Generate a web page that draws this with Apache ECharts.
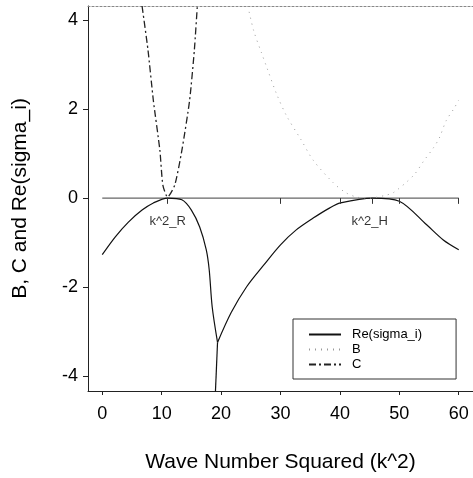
<!DOCTYPE html>
<html>
<head>
<meta charset="utf-8">
<script src="https://cdn.jsdelivr.net/npm/echarts@6/dist/echarts.min.js"></script>
<style>
  html, body { margin: 0; padding: 0; background: #fff; }
  #chart { width: 473px; height: 478px; }
</style>
</head>
<body>
<div id="chart"></div>
<script>
// Growth rate Re(sigma_i) and the two criteria B, C against k^2
const xTicks = [0, 10, 20, 30, 40, 50, 60];
const yTicks = [-4, -2, 0, 2, 4];

// Re(sigma_i): left branch up to the kink near k^2 = 19.4,
// the singular drop below it, and the right branch peaking at k^2_H
const reLeft = [
  [0, -1.27], [2.2, -0.87], [4.4, -0.54], [6.7, -0.27], [8.6, -0.11],
  [11.0, 0.0], [13.4, -0.04], [15.0, -0.27], [16.4, -0.65], [17.5, -1.16],
  [18.0, -1.61], [18.5, -2.44], [19.4, -3.24]
];
const reDrop = [[19.4, -3.24], [19.0, -4.5]];
const reRight = [
  [19.4, -3.24], [21.7, -2.57], [24.3, -1.99], [27.2, -1.50], [30.0, -1.05],
  [32.6, -0.72], [35.5, -0.45], [38.3, -0.22], [40.1, -0.11], [45.5, 0.0],
  [50.0, -0.07], [54.6, -0.60], [57.4, -0.94], [60.0, -1.16]
];
const bValues = [
  [24.5, 4.31], [25.5, 3.75], [26.8, 3.26], [27.7, 2.93], [29.3, 2.35],
  [31.0, 1.85], [33.5, 1.30], [35.5, 0.85], [38.9, 0.34], [41.0, 0.12],
  [42.9, 0.02], [45.0, 0.0], [47.9, 0.07], [49.1, 0.13], [52.4, 0.51],
  [54.2, 0.85], [55.7, 1.12], [56.7, 1.34], [57.9, 1.74], [59.2, 2.01],
  [60.0, 2.2]
];
const cValues = [
  [6.7, 4.31], [7.7, 3.32], [8.6, 2.19], [9.7, 1.07], [10.2, 0.29],
  [11.0, 0.02], [12.2, 0.29], [13.4, 1.07], [14.7, 2.19], [15.5, 3.32],
  [16.0, 4.31]
];
const zeroLine = [[0, 0], [60, 0]];
const zeroTicks = [11, 30, 40, 45.5, 50, 60];
const notes = [[11, -0.53, 'k^2_R'], [45, -0.53, 'k^2_H']];

const font = 'Liberation Sans, Arial, Helvetica, sans-serif';
const chart = echarts.init(document.getElementById('chart'), null, { renderer: 'canvas' });

const reStyle = {
  name: 'Re(sigma_i)', type: 'line', symbol: 'none',
  itemStyle: { color: '#111' },
  lineStyle: { color: '#111', width: 1.2 }
};

chart.setOption({
  backgroundColor: '#ffffff',
  animation: false,
  textStyle: { fontFamily: font, color: '#000' },
  grid: { left: 88, top: 6, width: 389, height: 386, containLabel: false },
  xAxis: [{
    type: 'value', min: -2.4, max: 62.4, position: 'bottom',
    name: 'Wave Number Squared (k^2)', nameLocation: 'middle', nameGap: 61,
    nameTextStyle: { fontSize: 21, color: '#000', fontFamily: font },
    axisLine: { show: true, onZero: false, lineStyle: { color: '#222', width: 1 } },
    axisTick: { show: true, length: 4, customValues: xTicks, lineStyle: { color: '#222' } },
    axisLabel: { customValues: xTicks, fontSize: 18, color: '#000', margin: 14, fontFamily: font },
    splitLine: { show: false }
  }, {
    type: 'value', min: -2.4, max: 62.4, position: 'top',
    axisLine: { show: true, onZero: false, lineStyle: { color: '#888', width: 1.2, type: [2, 2] } },
    axisTick: { show: false }, axisLabel: { show: false }, splitLine: { show: false }
  }],
  yAxis: {
    type: 'value', min: -4.33, max: 4.31,
    name: 'B, C and Re(sigma_i)', nameLocation: 'middle', nameGap: 57,
    nameTextStyle: { fontSize: 21, color: '#000', fontFamily: font },
    axisLine: { show: true, onZero: false, lineStyle: { color: '#222', width: 1 } },
    axisTick: { show: true, length: 5, customValues: yTicks, lineStyle: { color: '#222' } },
    axisLabel: { customValues: yTicks, fontSize: 18, color: '#000', margin: 10, fontFamily: font },
    splitLine: { show: false }
  },
  legend: {
    orient: 'vertical', left: 293, top: 319,
    padding: [9, 34, 8, 15], itemWidth: 32, itemHeight: 12, itemGap: 2,
    borderColor: '#333', borderWidth: 1,
    itemStyle: { opacity: 0 },
    textStyle: { fontSize: 13, color: '#000', fontFamily: font, padding: [0, 0, 0, 6] },
    data: ['Re(sigma_i)', 'B', 'C']
  },
  series: [
    {
      name: 'zero', type: 'line', data: zeroLine, symbol: 'none', silent: true,
      lineStyle: { color: '#666', width: 1.3 },
      markLine: {
        silent: true, symbol: 'none', label: { show: false },
        lineStyle: { color: '#333', width: 1, type: 'solid' },
        data: zeroTicks.map(x => [{ coord: [x, 0] }, { coord: [x, -0.13] }])
      }
    },
    Object.assign({ data: reLeft, smooth: 0.3 }, reStyle),
    Object.assign({ data: reDrop }, reStyle),
    Object.assign({ data: reRight, smooth: 0.3 }, reStyle),
    {
      name: 'B', type: 'line', data: bValues, symbol: 'none', smooth: 0.3,
      itemStyle: { color: '#9a9a9a' },
      lineStyle: { color: '#9a9a9a', width: 1, type: [1, 5] }
    },
    {
      name: 'C', type: 'line', data: cValues, symbol: 'none', smooth: 0.2,
      itemStyle: { color: '#222' },
      lineStyle: { color: '#222', width: 1.3, type: [7, 3, 2, 3] }
    },
    {
      name: 'notes', type: 'scatter', data: notes, symbolSize: 0, silent: true,
      label: {
        show: true, position: 'inside', fontSize: 13, color: '#000', fontFamily: font,
        formatter: p => p.value[2]
      }
    }
  ]
});
</script>
</body>
</html>
